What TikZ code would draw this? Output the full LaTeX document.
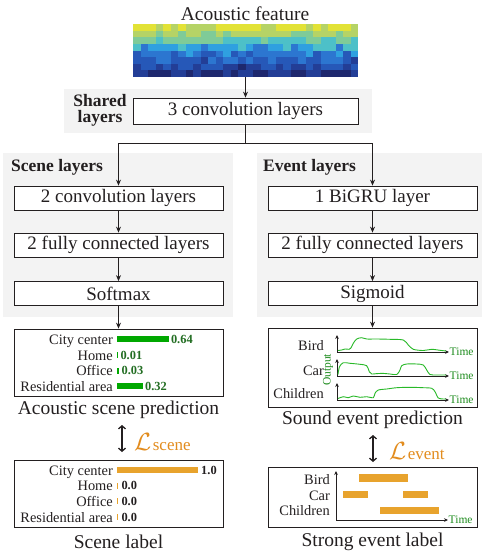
\documentclass[tikz,border=0pt]{standalone}
\usepackage{fontspec}
\setmainfont{Liberation Serif}
\usetikzlibrary{arrows.meta}

\definecolor{bgray}{RGB}{243,243,243}
\definecolor{ink}{RGB}{35,31,32}
\definecolor{gbar}{RGB}{0,168,0}
\definecolor{gtext}{RGB}{35,110,35}
\definecolor{gcurve}{RGB}{40,185,40}
\definecolor{gtime}{RGB}{30,140,30}
\definecolor{obar}{RGB}{232,163,45}
\definecolor{oloss}{RGB}{226,140,30}
\definecolor{spec0}{RGB}{30,40,110}
\definecolor{spec1}{RGB}{35,62,150}
\definecolor{spec2}{RGB}{38,88,184}
\definecolor{spec3}{RGB}{44,118,208}
\definecolor{spec4}{RGB}{47,160,224}
\definecolor{spec5}{RGB}{77,192,200}
\definecolor{spec6}{RGB}{127,203,152}
\definecolor{spec7}{RGB}{181,211,102}
\definecolor{spec8}{RGB}{226,226,54}

\newcommand\fzTitle{\fontsize{19.5}{22}\selectfont}
\newcommand\fzBox{\fontsize{19}{22}\selectfont}
\newcommand\fzBold{\fontsize{17.5}{16}\selectfont\bfseries}
\newcommand\fzLab{\fontsize{14.4}{16}\selectfont}
\newcommand\fzVal{\fontsize{12.4}{14}\selectfont\bfseries}
\newcommand\fzTime{\fontsize{11.5}{13}\selectfont}

\tikzset{
  layerbox/.style={draw=ink, line width=0.8pt, fill=white, minimum width=209pt,
    minimum height=24pt, inner sep=0pt, font=\fzBox, text=ink},
  panel/.style={draw=ink, line width=0.8pt, fill=white, inner sep=0pt},
  arr/.style={-{Stealth[length=6pt,width=5pt]}, line width=0.8pt, draw=ink},
  axarr/.style={{Stealth[length=4pt,width=3.6pt]}-{Stealth[length=4pt,width=3.6pt]}, line width=1pt, draw=ink},
  lossarr/.style={{Straight Barb[length=3pt,width=7pt]}-{Straight Barb[length=3pt,width=7pt]}, line width=1.3pt, draw=ink},
  title/.style={font=\fzTitle, text=ink, inner sep=0pt},
  lab/.style={font=\fzLab, text=ink, anchor=base east, inner sep=0pt},
  val/.style={font=\fzVal, anchor=base west, inner sep=0pt},
  timelab/.style={font=\fzTime, text=gtime, anchor=west, inner sep=0.5pt},
  curve/.style={draw=gcurve, line width=0.9pt},
}

\begin{document}
\begin{tikzpicture}[x=1pt,y=-1pt]
\useasboundingbox (0,0) rectangle (483,554);

% ---------- acoustic feature ----------
\node[title] (feat) at (245,14) {Acoustic feature};
\pgfmathsetseed{11}
\foreach \r in {0,...,7}{
  \foreach \c in {0,...,29}{
    \pgfmathsetmacro{\base}{{7.5,6.5,5.3,4.1,3.1,2.2,1.3,0.6}[\r]}
    \pgfmathtruncatemacro{\idx}{max(0,min(8,round(\base+0.9*rand)))}
    \fill[fill=spec\idx] (133+\c*7.5,24+\r*6.625) rectangle ++(7.6,6.7);
  }
}
\node[inner sep=0pt, minimum width=225pt, minimum height=53pt] (spec) at (245.5,50.5) {};

% ---------- shared layers ----------
\fill[bgray] (64,89) rectangle (372,133);
\node[font=\fzBold, text=ink, align=center, inner sep=0pt] (sharedlab) at (100,110) {Shared\\layers};
\node[layerbox, minimum width=225pt, minimum height=26pt] (shared) at (245.5,111) {3 convolution layers};
\draw[arr] (spec.south) -- (shared.north);

% ---------- branch backgrounds ----------
\fill[bgray] (3,153) rectangle (233,317);
\fill[bgray] (257,153) rectangle (482,317);
\node[font=\fzBold, text=ink, anchor=west, inner sep=0pt] (scenelab) at (11,167) {Scene layers};
\node[font=\fzBold, text=ink, anchor=west, inner sep=0pt] (eventlab) at (263,167) {Event layers};

\node[layerbox] (s1) at (118.5,198) {2 convolution layers};
\node[layerbox] (s2) at (118.5,245) {2 fully connected layers};
\node[layerbox] (s3) at (118.5,293.5) {Softmax};
\node[layerbox] (e1) at (372.5,198) {1 BiGRU layer};
\node[layerbox] (e2) at (372.5,245) {2 fully connected layers};
\node[layerbox] (e3) at (372.5,293.5) {Sigmoid};

\coordinate (split) at (245.5,143);
\draw[line width=0.8pt, draw=ink] (shared.south) -- (split);
\draw[arr] (split) -| (s1.north);
\draw[arr] (split) -| (e1.north);
\draw[arr] (s1) -- (s2);
\draw[arr] (s2) -- (s3);
\draw[arr] (e1) -- (e2);
\draw[arr] (e2) -- (e3);

% ---------- acoustic scene prediction ----------
\node[panel, minimum width=209pt, minimum height=67pt] (spred) at (118.5,362.5) {};
\draw[arr] (s3.south) -- (spred.north);
\foreach \lab/\y/\v [count=\i] in {City center/339/0.64, Home/355/0.01, Office/370.5/0.03, Residential area/386/0.32}{
  \node[lab] (spl\i) at (113,\y+5) {\lab};
  \pgfmathsetmacro\w{max(1.3,\v*81)}
  \fill[gbar] (117,\y-3) rectangle ++(\w,6);
  \node[val, text=gtext] (spv\i) at (117+\w+2,\y+4.3) {\v};
}
\node[title] (spredt) at (118.5,410) {Acoustic scene prediction};

% ---------- scene loss ----------
\coordinate (sa1) at (122,425);
\coordinate (sa2) at (122,452);
\draw[lossarr] (sa1) -- (sa2);
\node[anchor=west, text=oloss, inner sep=0pt] (sloss) at (134,442)
  {\fontsize{23}{23}\selectfont$\mathcal{L}$\hspace{1.5pt}\fontsize{17}{17}\selectfont scene};

% ---------- scene label ----------
\node[panel, minimum width=209pt, minimum height=67pt] (slab) at (118.5,493.5) {};
\foreach \lab/\y/\v [count=\i] in {City center/470/1.0, Home/485.5/0.0, Office/501/0.0, Residential area/517/0.0}{
  \node[lab] (sll\i) at (113,\y+5) {\lab};
  \pgfmathsetmacro\w{max(1.3,\v*81)}
  \fill[obar] (117,\y-3) rectangle ++(\w,6);
  \node[val, text=ink] (slv\i) at (117+\w+3,\y+4.3) {\v};
}
\node[title] (slabt) at (118.5,542) {Scene label};

% ---------- sound event prediction ----------
\node[panel, minimum width=209pt, minimum height=79pt] (epred) at (372.5,367.5) {};
\draw[arr] (e3.south) -- (epred.north);
\node[lab] (epb) at (324,350) {Bird};
\node[lab] (epc) at (324,375) {Car};
\node[lab] (epch) at (324,398) {Children};
\draw[axarr] (337,335) -- (337,352) -- (449,352);
\draw[axarr] (337,359) -- (337,376) -- (449,376);
\draw[axarr] (337,383) -- (337,400) -- (449,400);
\node[timelab] (ept1) at (449,352) {Time};
\node[timelab] (ept2) at (449,376) {Time};
\node[timelab] (ept3) at (449,400) {Time};
\node[font=\fzTime, text=gtime, rotate=90, inner sep=0pt] (epout) at (328,370) {Output};
\draw[curve] plot[smooth, tension=0.5] coordinates {(338,350.5) (341.7,350) (345,349) (349,349.3) (350.7,348.3) (353.3,343.3) (356.7,339) (361.7,337.7) (366.7,339) (376.7,339) (390,339.3) (403.3,340) (408.3,345) (413.3,349.3) (423.3,350.5) (431.7,349.3) (440,350.3) (446,351)};
\draw[curve] plot[smooth, tension=0.5] coordinates {(338,374.5) (339.5,366.7) (343.3,362.7) (350,363.3) (360,364.3) (366.7,365.7) (369.3,371.7) (371.7,374) (376.7,373.6) (383.3,373.4) (390,374) (396.7,374.5) (400,370) (401.7,365.7) (406.7,364) (416.7,364) (423.3,365) (426.7,370) (430,374.5) (436.7,375) (446,375)};
\draw[curve] plot[smooth, tension=0.5] coordinates {(338,398.5) (343.3,396.7) (348.3,397.7) (353.3,396) (360,397.3) (366.7,396.7) (373.3,397.7) (375,393.3) (378.3,390) (386.7,389) (396.7,387.7) (410,387.3) (423.3,387.7) (431.7,388.3) (435,391.7) (438.3,398) (443.3,399) (446,399)};
\node[title] (epredt) at (372.5,420) {Sound event prediction};

% ---------- event loss ----------
\coordinate (ea1) at (373,435);
\coordinate (ea2) at (373,462);
\draw[lossarr] (ea1) -- (ea2);
\node[anchor=west, text=oloss, inner sep=0pt] (eloss) at (389,451)
  {\fontsize{23}{23}\selectfont$\mathcal{L}$\hspace{1.5pt}\fontsize{17}{17}\selectfont event};

% ---------- strong event label ----------
\node[panel, minimum width=209pt, minimum height=60pt] (elab) at (372.5,497) {};
\node[lab] (elb) at (330,484) {Bird};
\node[lab] (elc) at (330,500) {Car};
\node[lab] (elch) at (330,515) {Children};
\draw[axarr] (336,471) -- (336,520) -- (448,520);
\node[timelab] (elt) at (448,520) {Time};
\fill[obar] (359,474) rectangle (408,482);
\fill[obar] (343,490.5) rectangle (368,498);
\fill[obar] (403,490.5) rectangle (428,498);
\fill[obar] (380,506.5) rectangle (439,514);
\node[title] (elabt) at (372.5,542) {Strong event label};
\end{tikzpicture}
\end{document}
